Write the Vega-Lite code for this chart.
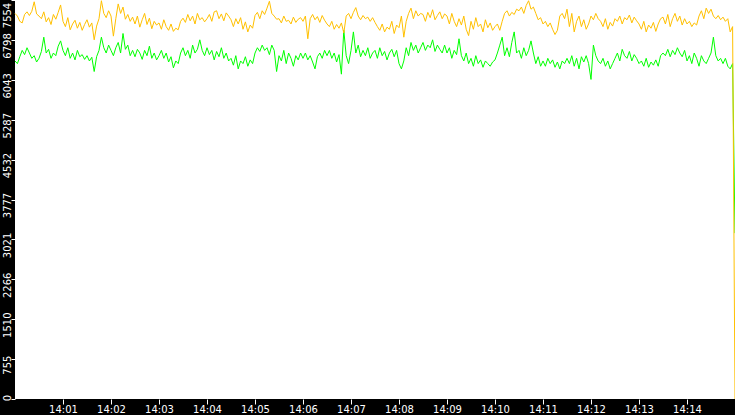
{
  "$schema": "https://vega.github.io/schema/vega-lite/v6.json",
  "description": "Two per-interval counters from 14:00 to 14:15, black frame, white plot.",
  "width": 720,
  "height": 399,
  "autosize": "none",
  "padding": {"left": 15, "top": 0, "right": 0, "bottom": 16},
  "background": "black",
  "data": {
    "format": {"parse": {"t": "date:'%H:%M:%S'"}},
    "values": [
      {"t":"14:00:00","o":7300,"g":6400},{"t":"14:00:03","o":7250,"g":6350},{"t":"14:00:06","o":7150,"g":6480},{"t":"14:00:09","o":7120,"g":6600},{"t":"14:00:12","o":7280,"g":6520},
      {"t":"14:00:15","o":7330,"g":6650},{"t":"14:00:18","o":7260,"g":6550},{"t":"14:00:21","o":7340,"g":6450},{"t":"14:00:24","o":7520,"g":6500},{"t":"14:00:27","o":7290,"g":6380},
      {"t":"14:00:30","o":7250,"g":6450},{"t":"14:00:33","o":7200,"g":6580},{"t":"14:00:36","o":7330,"g":6850},{"t":"14:00:39","o":7140,"g":6550},{"t":"14:00:42","o":7220,"g":6620},
      {"t":"14:00:45","o":7090,"g":6450},{"t":"14:00:48","o":7280,"g":6550},{"t":"14:00:51","o":7190,"g":6500},{"t":"14:00:54","o":7320,"g":6680},{"t":"14:00:57","o":7460,"g":6780},
      {"t":"14:01:00","o":7150,"g":6600},{"t":"14:01:03","o":7050,"g":6500},{"t":"14:01:06","o":7220,"g":6650},{"t":"14:01:09","o":6990,"g":6450},{"t":"14:01:12","o":7100,"g":6550},
      {"t":"14:01:15","o":7170,"g":6420},{"t":"14:01:18","o":7020,"g":6600},{"t":"14:01:21","o":7130,"g":6480},{"t":"14:01:24","o":6980,"g":6520},{"t":"14:01:27","o":7090,"g":6430},
      {"t":"14:01:30","o":7180,"g":6500},{"t":"14:01:33","o":7040,"g":6400},{"t":"14:01:36","o":7120,"g":6470},{"t":"14:01:39","o":6800,"g":6200},{"t":"14:01:42","o":7060,"g":6480},
      {"t":"14:01:45","o":7200,"g":6600},{"t":"14:01:48","o":7540,"g":6850},{"t":"14:01:51","o":7300,"g":6650},{"t":"14:01:54","o":7220,"g":6550},{"t":"14:01:57","o":7350,"g":6700},
      {"t":"14:02:00","o":7250,"g":6600},{"t":"14:02:03","o":6870,"g":6500},{"t":"14:02:06","o":7200,"g":6650},{"t":"14:02:09","o":7480,"g":6750},{"t":"14:02:12","o":7300,"g":6550},
      {"t":"14:02:15","o":7420,"g":6920},{"t":"14:02:18","o":7190,"g":6620},{"t":"14:02:21","o":7280,"g":6700},{"t":"14:02:24","o":7150,"g":6500},{"t":"14:02:27","o":7230,"g":6600},
      {"t":"14:02:30","o":7100,"g":6480},{"t":"14:02:33","o":7250,"g":6620},{"t":"14:02:36","o":7040,"g":6550},{"t":"14:02:39","o":7180,"g":6430},{"t":"14:02:42","o":7300,"g":6600},
      {"t":"14:02:45","o":7090,"g":6500},{"t":"14:02:48","o":7210,"g":6680},{"t":"14:02:51","o":7010,"g":6450},{"t":"14:02:54","o":7150,"g":6550},{"t":"14:02:57","o":7080,"g":6420},
      {"t":"14:03:00","o":7120,"g":6500},{"t":"14:03:03","o":7000,"g":6600},{"t":"14:03:06","o":7180,"g":6450},{"t":"14:03:09","o":7050,"g":6550},{"t":"14:03:12","o":6980,"g":6380},
      {"t":"14:03:15","o":7100,"g":6480},{"t":"14:03:18","o":6960,"g":6270},{"t":"14:03:21","o":7020,"g":6400},{"t":"14:03:24","o":6990,"g":6350},{"t":"14:03:27","o":7150,"g":6550},
      {"t":"14:03:30","o":7210,"g":6650},{"t":"14:03:33","o":7130,"g":6500},{"t":"14:03:36","o":7280,"g":6600},{"t":"14:03:39","o":7160,"g":6450},{"t":"14:03:42","o":7250,"g":6700},
      {"t":"14:03:45","o":7100,"g":6550},{"t":"14:03:48","o":7300,"g":6620},{"t":"14:03:51","o":7180,"g":6800},{"t":"14:03:54","o":7220,"g":6600},{"t":"14:03:57","o":7140,"g":6500},
      {"t":"14:04:00","o":7200,"g":6650},{"t":"14:04:03","o":7280,"g":6520},{"t":"14:04:06","o":7150,"g":6600},{"t":"14:04:09","o":7330,"g":6420},{"t":"14:04:12","o":7350,"g":6580},
      {"t":"14:04:15","o":7200,"g":6480},{"t":"14:04:18","o":7290,"g":6650},{"t":"14:04:21","o":7160,"g":6450},{"t":"14:04:24","o":7310,"g":6550},{"t":"14:04:27","o":7250,"g":6400},
      {"t":"14:04:30","o":7180,"g":6450},{"t":"14:04:33","o":7050,"g":6320},{"t":"14:04:36","o":7200,"g":6500},{"t":"14:04:39","o":7100,"g":6250},{"t":"14:04:42","o":7220,"g":6400},
      {"t":"14:04:45","o":7000,"g":6350},{"t":"14:04:48","o":7140,"g":6480},{"t":"14:04:51","o":6950,"g":6300},{"t":"14:04:54","o":7080,"g":6420},{"t":"14:04:57","o":7020,"g":6350},
      {"t":"14:05:00","o":7260,"g":6550},{"t":"14:05:03","o":7320,"g":6650},{"t":"14:05:06","o":7200,"g":6580},{"t":"14:05:09","o":7350,"g":6700},{"t":"14:05:12","o":7280,"g":6600},
      {"t":"14:05:15","o":7400,"g":6650},{"t":"14:05:18","o":7530,"g":6520},{"t":"14:05:21","o":7300,"g":6700},{"t":"14:05:24","o":7250,"g":6600},{"t":"14:05:27","o":7190,"g":6200},
      {"t":"14:05:30","o":7200,"g":6500},{"t":"14:05:33","o":7120,"g":6400},{"t":"14:05:36","o":7250,"g":6600},{"t":"14:05:39","o":7150,"g":6350},{"t":"14:05:42","o":7170,"g":6550},
      {"t":"14:05:45","o":7100,"g":6450},{"t":"14:05:48","o":7230,"g":6300},{"t":"14:05:51","o":7130,"g":6500},{"t":"14:05:54","o":7190,"g":6420},{"t":"14:05:57","o":7220,"g":6550},
      {"t":"14:06:00","o":7150,"g":6450},{"t":"14:06:03","o":7250,"g":6550},{"t":"14:06:06","o":6820,"g":6420},{"t":"14:06:09","o":7200,"g":6500},{"t":"14:06:12","o":7280,"g":6380},
      {"t":"14:06:15","o":7180,"g":6250},{"t":"14:06:18","o":7240,"g":6480},{"t":"14:06:21","o":7130,"g":6550},{"t":"14:06:24","o":7260,"g":6450},{"t":"14:06:27","o":7170,"g":6600},
      {"t":"14:06:30","o":7100,"g":6500},{"t":"14:06:33","o":7050,"g":6600},{"t":"14:06:36","o":7150,"g":6450},{"t":"14:06:39","o":7000,"g":6550},{"t":"14:06:42","o":7090,"g":6380},
      {"t":"14:06:45","o":7020,"g":6520},{"t":"14:06:48","o":7120,"g":6150},{"t":"14:06:51","o":6930,"g":6980},{"t":"14:06:54","o":7250,"g":6500},{"t":"14:06:57","o":7300,"g":6350},
      {"t":"14:07:00","o":7200,"g":6600},{"t":"14:07:03","o":7320,"g":6950},{"t":"14:07:06","o":7410,"g":6550},{"t":"14:07:09","o":7250,"g":6700},{"t":"14:07:12","o":7180,"g":6480},
      {"t":"14:07:15","o":7260,"g":6600},{"t":"14:07:18","o":7200,"g":6500},{"t":"14:07:21","o":7230,"g":6650},{"t":"14:07:24","o":7150,"g":6450},{"t":"14:07:27","o":7220,"g":6550},
      {"t":"14:07:30","o":7130,"g":6600},{"t":"14:07:33","o":7050,"g":6450},{"t":"14:07:36","o":6980,"g":6650},{"t":"14:07:39","o":7100,"g":6500},{"t":"14:07:42","o":6950,"g":6580},
      {"t":"14:07:45","o":7040,"g":6420},{"t":"14:07:48","o":7000,"g":6550},{"t":"14:07:51","o":7150,"g":6620},{"t":"14:07:54","o":6920,"g":6480},{"t":"14:07:57","o":7080,"g":6600},
      {"t":"14:08:00","o":7030,"g":6350},{"t":"14:08:03","o":7250,"g":6250},{"t":"14:08:06","o":6850,"g":6400},{"t":"14:08:09","o":7150,"g":6650},{"t":"14:08:12","o":7300,"g":6500},
      {"t":"14:08:15","o":7400,"g":6750},{"t":"14:08:18","o":7200,"g":6600},{"t":"14:08:21","o":7350,"g":6700},{"t":"14:08:24","o":7250,"g":6550},{"t":"14:08:27","o":7300,"g":6650},
      {"t":"14:08:30","o":7280,"g":6750},{"t":"14:08:33","o":7150,"g":6600},{"t":"14:08:36","o":7320,"g":6700},{"t":"14:08:39","o":7220,"g":6650},{"t":"14:08:42","o":7370,"g":6800},
      {"t":"14:08:45","o":7180,"g":6580},{"t":"14:08:48","o":7260,"g":6700},{"t":"14:08:51","o":7330,"g":6620},{"t":"14:08:54","o":7200,"g":6550},{"t":"14:08:57","o":7290,"g":6700},
      {"t":"14:09:00","o":7250,"g":6550},{"t":"14:09:03","o":7100,"g":6650},{"t":"14:09:06","o":7300,"g":6450},{"t":"14:09:09","o":7150,"g":6600},{"t":"14:09:12","o":7050,"g":6520},
      {"t":"14:09:15","o":7200,"g":6820},{"t":"14:09:18","o":7080,"g":6500},{"t":"14:09:21","o":7250,"g":6400},{"t":"14:09:24","o":7000,"g":6550},{"t":"14:09:27","o":6880,"g":6350},
      {"t":"14:09:30","o":7150,"g":6450},{"t":"14:09:33","o":7000,"g":6300},{"t":"14:09:36","o":7220,"g":6500},{"t":"14:09:39","o":7050,"g":6350},{"t":"14:09:42","o":7100,"g":6420},
      {"t":"14:09:45","o":6950,"g":6280},{"t":"14:09:48","o":7180,"g":6400},{"t":"14:09:51","o":7030,"g":6350},{"t":"14:09:54","o":7120,"g":6300},{"t":"14:09:57","o":6980,"g":6380},
      {"t":"14:10:00","o":7050,"g":6420},{"t":"14:10:03","o":7100,"g":6550},{"t":"14:10:06","o":6980,"g":6700},{"t":"14:10:09","o":7150,"g":6850},{"t":"14:10:12","o":7300,"g":6500},
      {"t":"14:10:15","o":7350,"g":6650},{"t":"14:10:18","o":7250,"g":6480},{"t":"14:10:21","o":7320,"g":6750},{"t":"14:10:24","o":7280,"g":6950},{"t":"14:10:27","o":7380,"g":6550},
      {"t":"14:10:30","o":7350,"g":6600},{"t":"14:10:33","o":7420,"g":6450},{"t":"14:10:36","o":7300,"g":6650},{"t":"14:10:39","o":7450,"g":6500},{"t":"14:10:42","o":7540,"g":6600},
      {"t":"14:10:45","o":7380,"g":6780},{"t":"14:10:48","o":7420,"g":6550},{"t":"14:10:51","o":7300,"g":6350},{"t":"14:10:54","o":7180,"g":6480},{"t":"14:10:57","o":7220,"g":6300},
      {"t":"14:11:00","o":7100,"g":6400},{"t":"14:11:03","o":7150,"g":6300},{"t":"14:11:06","o":7050,"g":6450},{"t":"14:11:09","o":7120,"g":6350},{"t":"14:11:12","o":7000,"g":6420},
      {"t":"14:11:15","o":6900,"g":6280},{"t":"14:11:18","o":6980,"g":6380},{"t":"14:11:21","o":7250,"g":6250},{"t":"14:11:24","o":7300,"g":6400},{"t":"14:11:27","o":7200,"g":6350},
      {"t":"14:11:30","o":7380,"g":6450},{"t":"14:11:33","o":7050,"g":6350},{"t":"14:11:36","o":7300,"g":6500},{"t":"14:11:39","o":6950,"g":6300},{"t":"14:11:42","o":7150,"g":6450},
      {"t":"14:11:45","o":7250,"g":6250},{"t":"14:11:48","o":7050,"g":6480},{"t":"14:11:51","o":7180,"g":6380},{"t":"14:11:54","o":7000,"g":6500},{"t":"14:11:57","o":7100,"g":6350},
      {"t":"14:12:00","o":7250,"g":6050},{"t":"14:12:03","o":7180,"g":6700},{"t":"14:12:06","o":7300,"g":6500},{"t":"14:12:09","o":7200,"g":6400},{"t":"14:12:12","o":7150,"g":6350},
      {"t":"14:12:15","o":7050,"g":6450},{"t":"14:12:18","o":7200,"g":6300},{"t":"14:12:21","o":7000,"g":6400},{"t":"14:12:24","o":7130,"g":6250},{"t":"14:12:27","o":7060,"g":6350},
      {"t":"14:12:30","o":7200,"g":6450},{"t":"14:12:33","o":7150,"g":6550},{"t":"14:12:36","o":7250,"g":6400},{"t":"14:12:39","o":7100,"g":6620},{"t":"14:12:42","o":7220,"g":6500},
      {"t":"14:12:45","o":7180,"g":6450},{"t":"14:12:48","o":7270,"g":6580},{"t":"14:12:51","o":7120,"g":6400},{"t":"14:12:54","o":7230,"g":6520},{"t":"14:12:57","o":7160,"g":6450},
      {"t":"14:13:00","o":7100,"g":6350},{"t":"14:13:03","o":7000,"g":6400},{"t":"14:13:06","o":7150,"g":6300},{"t":"14:13:09","o":6950,"g":6450},{"t":"14:13:12","o":7080,"g":6280},
      {"t":"14:13:15","o":7020,"g":6380},{"t":"14:13:18","o":7130,"g":6320},{"t":"14:13:21","o":6960,"g":6420},{"t":"14:13:24","o":7100,"g":6300},{"t":"14:13:27","o":7200,"g":6500},
      {"t":"14:13:30","o":7230,"g":6550},{"t":"14:13:33","o":7100,"g":6500},{"t":"14:13:36","o":7280,"g":6620},{"t":"14:13:39","o":7050,"g":6480},{"t":"14:13:42","o":7200,"g":6600},
      {"t":"14:13:45","o":7300,"g":6520},{"t":"14:13:48","o":7150,"g":6650},{"t":"14:13:51","o":7250,"g":6550},{"t":"14:13:54","o":7080,"g":6480},{"t":"14:13:57","o":7200,"g":6600},
      {"t":"14:14:00","o":7100,"g":6400},{"t":"14:14:03","o":7150,"g":6500},{"t":"14:14:06","o":7050,"g":6350},{"t":"14:14:09","o":7120,"g":6550},{"t":"14:14:12","o":7080,"g":6450},
      {"t":"14:14:15","o":7250,"g":6300},{"t":"14:14:18","o":7350,"g":6500},{"t":"14:14:21","o":7200,"g":6400},{"t":"14:14:24","o":7400,"g":6350},{"t":"14:14:27","o":7300,"g":6450},
      {"t":"14:14:30","o":7380,"g":6550},{"t":"14:14:33","o":7250,"g":6850},{"t":"14:14:36","o":7200,"g":6500},{"t":"14:14:39","o":7260,"g":6400},{"t":"14:14:42","o":7180,"g":6450},
      {"t":"14:14:45","o":7230,"g":6350},{"t":"14:14:48","o":7150,"g":6450},{"t":"14:14:51","o":7200,"g":6300},{"t":"14:14:54","o":6950,"g":6250},{"t":"14:14:57","o":7050,"g":6350},
      {"t":"14:15:00","o":0,"g":3140}
    ]
  },
  "transform": [
    {"fold": ["g", "o"], "as": ["series", "value"]}
  ],
  "mark": {"type": "line", "strokeWidth": 1, "interpolate": "linear"},
  "encoding": {
    "x": {
      "field": "t",
      "type": "temporal",
      "scale": {"nice": false},
      "axis": {
        "title": null,
        "format": "%H:%M",
        "values": [
          {"year": 1900, "month": 1, "date": 1, "hours": 14, "minutes": 1},
          {"year": 1900, "month": 1, "date": 1, "hours": 14, "minutes": 2},
          {"year": 1900, "month": 1, "date": 1, "hours": 14, "minutes": 3},
          {"year": 1900, "month": 1, "date": 1, "hours": 14, "minutes": 4},
          {"year": 1900, "month": 1, "date": 1, "hours": 14, "minutes": 5},
          {"year": 1900, "month": 1, "date": 1, "hours": 14, "minutes": 6},
          {"year": 1900, "month": 1, "date": 1, "hours": 14, "minutes": 7},
          {"year": 1900, "month": 1, "date": 1, "hours": 14, "minutes": 8},
          {"year": 1900, "month": 1, "date": 1, "hours": 14, "minutes": 9},
          {"year": 1900, "month": 1, "date": 1, "hours": 14, "minutes": 10},
          {"year": 1900, "month": 1, "date": 1, "hours": 14, "minutes": 11},
          {"year": 1900, "month": 1, "date": 1, "hours": 14, "minutes": 12},
          {"year": 1900, "month": 1, "date": 1, "hours": 14, "minutes": 13},
          {"year": 1900, "month": 1, "date": 1, "hours": 14, "minutes": 14}
        ],
        "grid": false,
        "domain": false,
        "tickColor": "white",
        "tickSize": 5,
        "labelColor": "white",
        "labelFont": "DejaVu Sans",
        "labelFontSize": 10,
        "labelPadding": 0,
        "labelFlush": false,
        "labelOverlap": false
      }
    },
    "y": {
      "field": "value",
      "type": "quantitative",
      "scale": {"domain": [0, 7554], "nice": false},
      "axis": {
        "title": null,
        "values": [0, 755, 1510, 2266, 3021, 3777, 4532, 5287, 6043, 6798, 7554],
        "format": "d",
        "grid": false,
        "domain": false,
        "tickColor": "white",
        "tickSize": 4,
        "labelColor": "white",
        "labelFont": "DejaVu Sans",
        "labelFontSize": 10,
        "labelAngle": 270,
        "labelAlign": "center",
        "labelBaseline": "alphabetic",
        "labelPadding": 1,
        "labelOffset": {
          "condition": [
            {"test": "datum.value <= 0", "value": -1.5},
            {"test": "datum.value >= 7554", "value": 15}
          ],
          "value": 5.5
        },
        "labelFlush": false,
        "labelBound": false,
        "labelOverlap": false
      }
    },
    "color": {
      "field": "series",
      "type": "nominal",
      "scale": {"domain": ["g", "o"], "range": ["#00ff00", "#ffc000"]},
      "legend": null
    }
  },
  "config": {
    "view": {"fill": "white", "stroke": null}
  }
}
